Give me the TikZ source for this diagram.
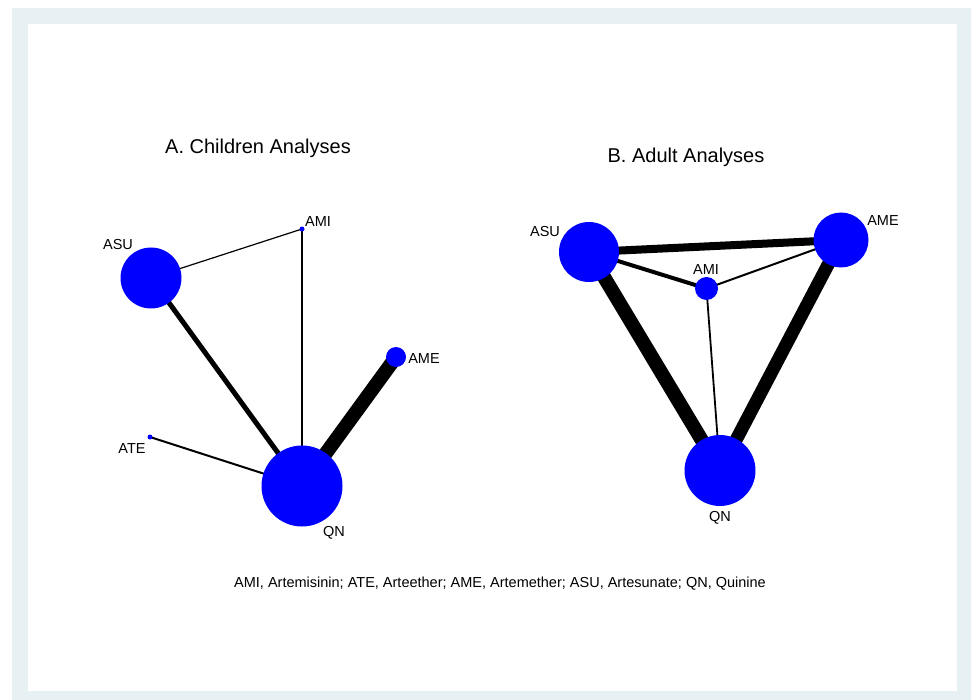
\documentclass[tikz,border=0pt]{standalone}
\usepackage{fontspec}
\setmainfont{Liberation Sans}
\usetikzlibrary{backgrounds}
\definecolor{framegray}{RGB}{231,240,242}

\begin{document}
\begin{tikzpicture}[x=1pt, y=-1pt,
    trt/.style={circle, fill=blue, inner sep=0pt, minimum size=#1},
    lbl/.style={anchor=base, inner sep=0pt, font=\fontsize{14.5}{17}\selectfont},
    ttl/.style={anchor=base, inner sep=0pt, font=\fontsize{20}{24}\selectfont},
    link/.style={draw=black, line width=#1},
  ]
    \useasboundingbox (0,0) rectangle (971,700);

    % A. Children
    \node[trt=61] (cASU) at (151,278) {};
    \node[trt=5]  (cAMI) at (302,229) {};
    \node[trt=20] (cAME) at (396,357) {};
    \node[trt=5]  (cATE) at (150,437) {};
    \node[trt=81] (cQN)  at (302,486) {};
    \node[lbl] (cASUlab) at (118,250) {ASU};
    \node[lbl] (cAMIlab) at (318,226.5) {AMI};
    \node[lbl] (cAMElab) at (424,363) {AME};
    \node[lbl] (cATElab) at (132,453) {ATE};
    \node[lbl] (cQNlab)  at (334,536.5) {QN};
    \node[ttl] (cTitle) at (258,154) {A. Children Analyses};

    % B. Adults
    \node[trt=60] (aASU) at (589,252) {};
    \node[trt=23] (aAMI) at (706.5,288.5) {};
    \node[trt=55] (aAME) at (841,240) {};
    \node[trt=71] (aQN)  at (720,470.5) {};
    \node[lbl] (aASUlab) at (545,236.5) {ASU};
    \node[lbl] (aAMIlab) at (706,275) {AMI};
    \node[lbl] (aAMElab) at (883,225.5) {AME};
    \node[lbl] (aQNlab)  at (720,521.5) {QN};
    \node[ttl] (aTitle) at (686,163) {B. Adult Analyses};

    \node[lbl] (legend) at (500,587) {AMI, Artemisinin; ATE, Arteether; AME, Artemether; ASU, Artesunate; QN, Quinine};

    \begin{scope}[on background layer]
      \fill[framegray] (12,8) rectangle (971,700);
      \fill[white] (28,24) rectangle (957,691);
      \draw[link=1.2] (cASU.center) -- (cAMI.center);
      \draw[link=1.2] (cAMI.center) -- (cQN.center);
      \draw[link=5]   (cASU.center) -- (cQN.center);
      \draw[link=2]   (cATE.center) -- (cQN.center);
      \draw[link=14]  (cAME.center) -- (cQN.center);
      \draw[link=8]   (aASU.center) -- (aAME.center);
      \draw[link=4]   (aASU.center) -- (aAMI.center);
      \draw[link=2]   (aAMI.center) -- (aAME.center);
      \draw[link=1.8] (aAMI.center) -- (aQN.center);
      \draw[link=14]  (aASU.center) -- (aQN.center);
      \draw[link=13]  (aAME.center) -- (aQN.center);
    \end{scope}
  \end{tikzpicture}
\end{document}
